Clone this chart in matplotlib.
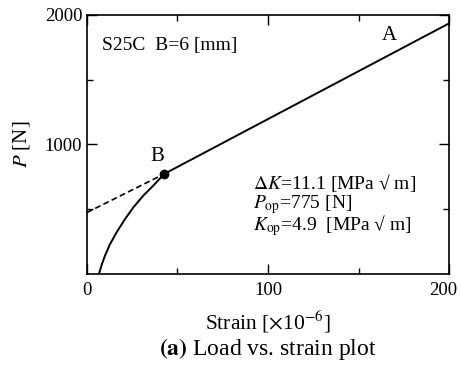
import matplotlib
matplotlib.use('Agg')
import matplotlib.pyplot as plt
import matplotlib.transforms as mtransforms

plt.rcParams['font.family'] = ['Liberation Serif', 'DejaVu Serif']
plt.rcParams['mathtext.fontset'] = 'stix'

# measured curve (strain x1e-6, load N)
strain_curve = [6.6, 8.1, 9.9, 12.7, 16.3, 21.0, 25.6, 31.1, 36.6, 42.7]
load_curve = [0, 70, 140, 230, 320, 424, 514, 605, 682, 773]

# linear part from B to A
strain_lin = [42.7, 200]
load_lin = [773, 1935]

# dashed extrapolation to zero strain
strain_ext = [0, 42.7]
load_ext = [475, 773]

point_B = (42.7, 773)

fs = 13.5

fig = plt.figure(figsize=(4.61, 3.70), dpi=100)
ax = fig.add_axes([0.1887, 0.2595, 0.7853, 0.70])

ax.plot(strain_curve, load_curve, c='k', lw=1.4, solid_joinstyle='round')
ax.plot(strain_lin, load_lin, c='k', lw=1.4)
ax.plot(strain_ext, load_ext, c='k', lw=1.2, ls=(0, (3.5, 2)))
ax.plot(point_B[0], point_B[1], 'o', c='k', ms=6)

ax.set_xlim([0, 200])
ax.set_ylim([0, 2000])
ax.set_xticks([0, 100, 200])
ax.set_xticks([50, 150], minor=True)
ax.set_yticks([1000, 2000])
ax.set_yticks([500, 1500], minor=True)
ax.tick_params(which='both', direction='in', top=True, right=True,
               labelsize=fs, width=1.0)
ax.tick_params(which='major', length=7)
ax.tick_params(which='minor', length=4)
ax.tick_params(axis='x', pad=6)
for s in ax.spines.values():
    s.set_linewidth(1.2)

# keep the last x label inside the figure
shift = mtransforms.ScaledTranslation(-4 / 72, 0, fig.dpi_scale_trans)
lab = ax.get_xticklabels()[-1]
lab.set_transform(lab.get_transform() + shift)

ax.set_ylabel('$\\it{P}$ [N]', size=15, labelpad=9)
ax.set_xlabel('Strain [$\\times$10$^{-6}$]', size=15.5, labelpad=7)

ax.text(8.3, 1767, 'S25C  B=6 [mm]', size=14, va='center')
ax.text(167, 1845, 'A', size=15, va='center', ha='center')
ax.text(39, 905, 'B', size=15, va='center', ha='center')

ax.text(91.7, 705, '$\\mathit{\u0394K}$=11.1 [MPa \u221a m]', size=14, va='center')
ax.text(91.7, 540, '$\\mathit{P}_{\\rm op}$=775 [N]', size=14, va='center')
ax.text(91.7, 372, '$\\mathit{K}_{\\rm op}$=4.9  [MPa \u221a m]', size=14, va='center')

fig.text(0.581, 0.058, '$\\bf{(a)}$ Load vs. strain plot', size=17,
         ha='center', va='center')

plt.savefig('out.png', dpi=100)
